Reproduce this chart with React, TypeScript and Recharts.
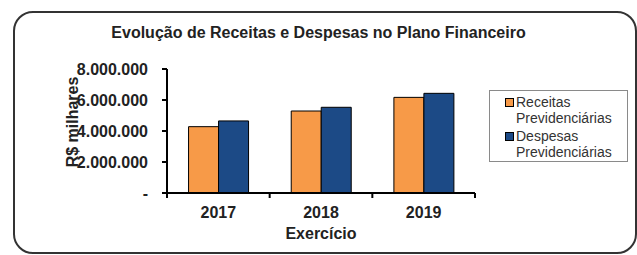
import { BarChart, Bar, XAxis, YAxis, Legend } from 'recharts'

const years = ['2017', '2018', '2019']
const receitas = [4280000, 5290000, 6170000]
const despesas = [4650000, 5530000, 6430000]
const yTicks = [0, 2000000, 4000000, 6000000, 8000000]
const seriesNames = ['Receitas Previdenciárias', 'Despesas Previdenciárias']

const ORANGE = '#F79A48'
const BLUE = '#1C4A86'
const FONT = '"Liberation Sans", Arial, sans-serif'

const data = years.map((year, i) => ({ year, receitas: receitas[i], despesas: despesas[i] }))

const fmt = (v: number) => (v === 0 ? '-' : v.toString().replace(/\B(?=(\d{3})+(?!\d))/g, '.'))

const XTick = (props: any) => {
  const { x, y, payload, index, width, visibleTicksCount } = props
  const bw = width / visibleTicksCount
  return (
    <g>
      <line x1={x - bw / 2} x2={x - bw / 2} y1={y} y2={y + 5} stroke="#000" strokeWidth={2} />
      {index === visibleTicksCount - 1 && (
        <line x1={x + bw / 2} x2={x + bw / 2} y1={y} y2={y + 5} stroke="#000" strokeWidth={2} />
      )}
      <text x={x} y={y + 25} textAnchor="middle" fontSize={16} fontWeight="bold" fill="#222" fontFamily={FONT}>
        {payload.value}
      </text>
    </g>
  )
}

const YLabel = ({ viewBox }: any) => {
  const cx = viewBox.x + 5
  const cy = viewBox.y + viewBox.height / 2 - 9
  return (
    <text
      x={cx}
      y={cy}
      transform={`rotate(-90, ${cx}, ${cy})`}
      textAnchor="middle"
      dominantBaseline="central"
      fontSize={16}
      fontWeight="bold"
      fill="#222"
      fontFamily={FONT}
    >
      R$ milhares
    </text>
  )
}

const LegendBox = () => (
  <div
    style={{
      width: 137,
      height: 70,
      border: '1px solid #8a8a8a',
      fontFamily: FONT,
      fontSize: 14,
      color: '#333',
      lineHeight: '16px',
      boxSizing: 'content-box',
    }}
  >
    {seriesNames.map((name, i) => {
      const [first, second] = name.split(' ')
      return (
        <div key={name} style={{ position: 'relative', paddingLeft: 26, marginTop: i === 0 ? 3 : 2 }}>
          <span
            style={{
              position: 'absolute',
              left: 15,
              top: 4,
              width: 7,
              height: 7,
              background: i === 0 ? ORANGE : BLUE,
              border: '1px solid #000',
            }}
          />
          <div>{first}</div>
          <div>{second}</div>
        </div>
      )
    })}
  </div>
)

export default function App() {
  return (
    <div style={{ position: 'absolute', left: 0, top: 0, width: 637, height: 255, background: '#fff', overflow: 'hidden' }}>
      <div
        style={{
          position: 'absolute',
          left: 13,
          top: 11,
          width: 624,
          height: 243,
          border: '2px solid #333',
          borderRadius: 20,
          boxSizing: 'border-box',
        }}
      />
      <div
        style={{
          position: 'absolute',
          left: 0,
          top: 24,
          width: 637,
          textAlign: 'center',
          fontFamily: FONT,
          fontWeight: 'bold',
          fontSize: 16,
          color: '#222',
        }}
      >
        Evolução de Receitas e Despesas no Plano Financeiro
      </div>
      <div style={{ position: 'absolute', left: 0, top: 0 }}>
        <BarChart
          width={637}
          height={255}
          data={data}
          margin={{ top: 69, right: 162, bottom: 12, left: 67 }}
          barCategoryGap="21%"
          barGap={0}
        >
          <XAxis
            dataKey="year"
            height={50}
            axisLine={{ stroke: '#000', strokeWidth: 2 }}
            tickLine={false}
            tickSize={0}
            tickMargin={0}
            tick={<XTick />}
            interval={0}
            label={{
              value: 'Exercício',
              position: 'insideBottom',
              offset: 4,
              fontSize: 16,
              fontWeight: 'bold',
              fill: '#222',
              fontFamily: FONT,
            }}
          />
          <YAxis
            width={100}
            domain={[0, 8000000]}
            ticks={yTicks}
            interval={0}
            tickFormatter={fmt}
            axisLine={{ stroke: '#000', strokeWidth: 2 }}
            tickLine={{ stroke: '#000', strokeWidth: 2 }}
            tickSize={5}
            tickMargin={14}
            tick={{ fontSize: 16, fontWeight: 'bold', fill: '#222', fontFamily: FONT }}
            label={<YLabel />}
          />
          <Legend
            layout="vertical"
            align="center"
            verticalAlign="middle"
            content={<LegendBox />}
            wrapperStyle={{ left: 489, top: 90, width: 139 }}
          />
          <Bar dataKey="receitas" name={seriesNames[0]} fill={ORANGE} stroke="#000" strokeWidth={1} isAnimationActive={false} />
          <Bar dataKey="despesas" name={seriesNames[1]} fill={BLUE} stroke="#000" strokeWidth={1} isAnimationActive={false} />
        </BarChart>
      </div>
    </div>
  )
}
